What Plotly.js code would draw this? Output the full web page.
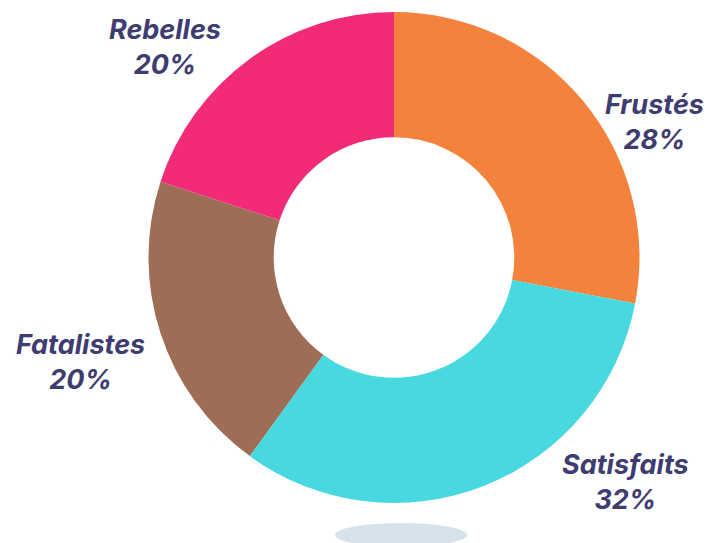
<!DOCTYPE html>
<html>
<head>
<meta charset="utf-8">
<script src="https://cdn.plot.ly/plotly-3.0.1.min.js"></script>
<style>html,body{margin:0;padding:0;background:#fff;}#chart{width:720px;height:543px;}</style>
</head>
<body>
<div id="chart"></div>
<script>
const categories = ["Frustés", "Satisfaits", "Fatalistes", "Rebelles"];
const values = [28, 32, 20, 20];
const colors = ["#F2823C", "#48D9E0", "#9E6D55", "#F22B79"];

// label anchor positions (paper coords) – layout only
const labelPos = {
  "Frustés":   {x: 654/720, y: 1 - 122/543},
  "Satisfaits":{x: 625/720, y: 1 - 482/543},
  "Fatalistes":{x: 80/720,  y: 1 - 362/543},
  "Rebelles":  {x: 165/720, y: 1 - 47/543}
};

const total = values.reduce((a, b) => a + b, 0);
const annotations = categories.map((c, i) => ({
  text: c + "<br>" + Math.round(values[i] / total * 100) + "%",
  x: labelPos[c].x, y: labelPos[c].y, xref: "paper", yref: "paper",
  xanchor: "center", yanchor: "middle", showarrow: false,
  font: {family: "Inter", size: 27, color: "#3E3C70", weight: 700, style: "italic"}
}));

const data = [{
  type: "pie",
  labels: categories,
  values: values,
  marker: {colors: colors, line: {width: 0}},
  hole: 0.49,
  sort: false,
  direction: "clockwise",
  rotation: 0,
  textinfo: "none",
  hoverinfo: "label+percent",
  domain: {x: [148/720, 640/720], y: [40/543, 531/543]}
}];

const layout = {
  width: 720, height: 543,
  margin: {l: 0, r: 0, t: 0, b: 0},
  showlegend: false,
  paper_bgcolor: "#ffffff",
  annotations: annotations,
  shapes: [{
    type: "circle", xref: "paper", yref: "paper",
    x0: 335/720, x1: 467/720, y0: 1 - 547/543, y1: 1 - 523/543,
    fillcolor: "#D7E3EB", line: {width: 0}, layer: "below"
  }]
};

Plotly.newPlot("chart", data, layout, {displayModeBar: false, staticPlot: true});
</script>
</body>
</html>
